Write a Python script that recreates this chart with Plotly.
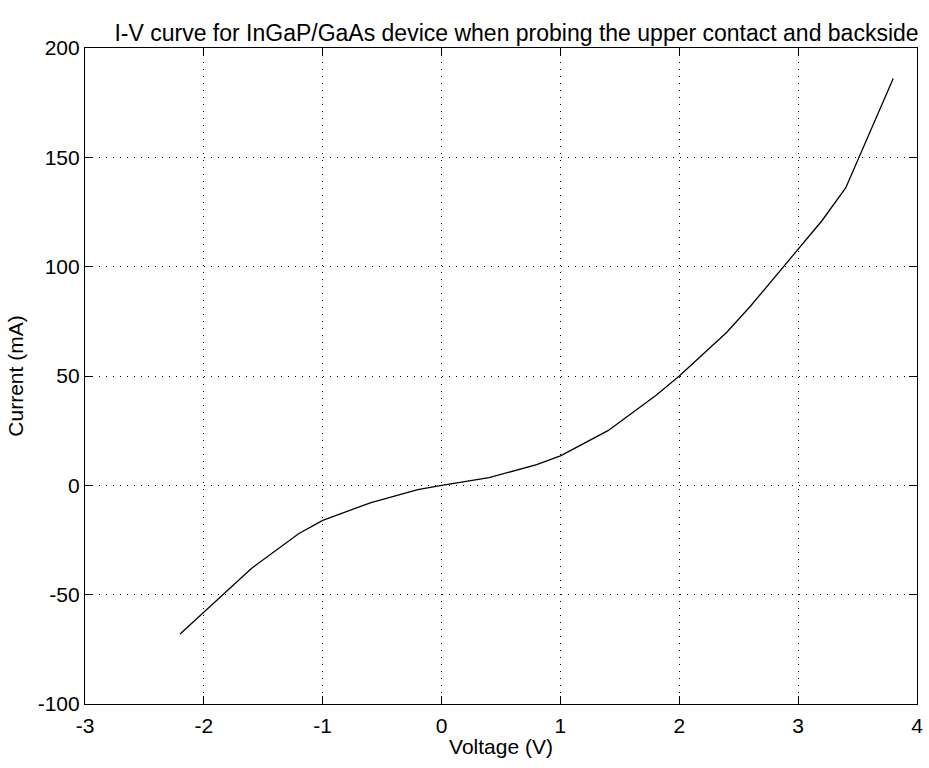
import plotly.graph_objects as go

voltage = [-2.2, -1.6, -1.2, -1.0, -0.6, -0.2, 0.0, 0.4, 0.8, 1.0, 1.4, 1.8, 2.0, 2.2, 2.4, 2.6, 2.8, 3.0, 3.2, 3.4, 3.8]
current = [-68, -38, -22, -16, -8, -2, 0, 3.5, 9.5, 13.5, 25, 41, 50, 60, 70, 82, 95, 108, 121, 136, 186]

x_ticks = [-3, -2, -1, 0, 1, 2, 3, 4]
x_labels = ["-3", "-2", "-1", "0", "1", "2", "3", "4"]
y_ticks = [-100, -50, 0, 50, 100, 150, 200]
y_labels = ["-100", "-50", "0", "50", "100", "150", "200"]

fig = go.Figure()
fig.add_trace(go.Scatter(x=voltage, y=current, mode="lines",
                         line=dict(color="black", width=1.3), showlegend=False))

font = dict(family="Liberation Sans, Arial, Helvetica, sans-serif", color="black")

axis_common = dict(
    showline=True, linecolor="black", linewidth=1.2, mirror="allticks",
    ticks="inside", ticklen=8, tickwidth=1.2, tickcolor="black",
    showgrid=True, gridcolor="black", gridwidth=1, griddash="1px,6px",
    zeroline=False, tickfont=dict(size=21, **font), ticklabeloverflow="allow",
)

fig.update_xaxes(range=[-3, 4], tickvals=x_ticks, ticktext=x_labels, **axis_common,
                 ticklabelstandoff=3,
                 title=dict(text="Voltage (V)", font=dict(size=21, **font), standoff=3))
fig.update_yaxes(range=[-100, 200], tickvals=y_ticks, ticktext=y_labels, **axis_common,
                 title=dict(text="Current (mA)", font=dict(size=21, **font), standoff=8))

fig.update_layout(
    width=929, height=768,
    margin=dict(l=85, r=6, t=48, b=64),
    paper_bgcolor="white", plot_bgcolor="white",
    title=dict(text="I-V curve for InGaP/GaAs device when probing the upper contact and backside",
               font=dict(size=23, **font), x=0.556, xanchor="center", y=0.957, yanchor="middle"),
)

fig.write_html("out.html")
